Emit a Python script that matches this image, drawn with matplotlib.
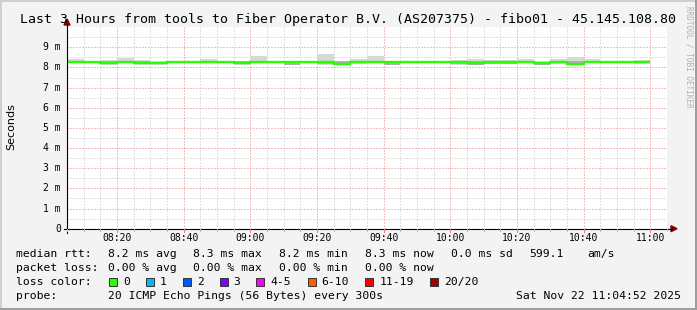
import matplotlib
matplotlib.use("Agg")
import matplotlib.pyplot as plt
from matplotlib.patches import Rectangle, Polygon
from matplotlib.lines import Line2D
import numpy as np

W, H = 697, 310

# ---------------- data ----------------
step_minutes = 5
start_label = "08:05"
tick_labels = ["08:20", "08:40", "09:00", "09:20", "09:40", "10:00", "10:20", "10:40", "11:00"]
ytick_vals = [0, 1, 2, 3, 4, 5, 6, 7, 8, 9]
ytick_labels = ["0", "1 m", "2 m", "3 m", "4 m", "5 m", "6 m", "7 m", "8 m", "9 m"]

# median RTT per 5-min step (ms)
median = [8.25, 8.25, 8.24, 8.25, 8.24, 8.24, 8.25, 8.25, 8.25, 8.25,
          8.24, 8.25, 8.25, 8.25, 8.25, 8.25, 8.18, 8.25, 8.25, 8.27,
          8.25, 8.25, 8.25, 8.25, 8.24, 8.25, 8.25, 8.25, 8.24, 8.25,
          8.19, 8.25, 8.25, 8.25, 8.27]
# outer smoke (lightest) band
smoke_hi = [8.42, 8.30, 8.36, 8.47, 8.36, 8.30, 8.30, 8.29, 8.42, 8.34,
            8.34, 8.57, 8.34, 8.30, 8.34, 8.67, 8.34, 8.42, 8.57, 8.30,
            8.34, 8.34, 8.30, 8.36, 8.42, 8.36, 8.36, 8.42, 8.30, 8.42,
            8.52, 8.42, 8.34, 8.29, 8.36]
smoke_lo = [8.22, 8.22, 8.14, 8.20, 8.14, 8.14, 8.20, 8.21, 8.21, 8.20,
            8.14, 8.20, 8.20, 8.14, 8.20, 8.14, 8.12, 8.19, 8.20, 8.14,
            8.20, 8.20, 8.21, 8.14, 8.14, 8.17, 8.17, 8.22, 8.14, 8.19,
            8.12, 8.22, 8.21, 8.21, 8.19]
# inner (darker) smoke band
inner_hi = [8.25, 8.25, 8.32, 8.25, 8.32, 8.25, 8.25, 8.25, 8.25, 8.25,
            8.30, 8.25, 8.32, 8.27, 8.25, 8.34, 8.30, 8.30, 8.25, 8.27,
            8.25, 8.25, 8.25, 8.34, 8.32, 8.34, 8.34, 8.30, 8.26, 8.34,
            8.30, 8.25, 8.25, 8.25, 8.30]
inner_lo = [8.25, 8.25, 8.15, 8.25, 8.15, 8.17, 8.25, 8.25, 8.25, 8.25,
            8.17, 8.25, 8.22, 8.14, 8.25, 8.17, 8.14, 8.22, 8.25, 8.14,
            8.25, 8.25, 8.25, 8.17, 8.14, 8.19, 8.19, 8.25, 8.14, 8.22,
            8.14, 8.25, 8.25, 8.25, 8.22]

loss_labels = ["0", "1", "2", "3", "4-5", "6-10", "11-19", "20/20"]
loss_colors = ["#26ff00", "#00b8ff", "#0059ff", "#7e00ff", "#ff00ff", "#ff5e00", "#ff0000", "#a10000"]

# ---------------- figure ----------------
fig = plt.figure(figsize=(W / 100, H / 100), dpi=100)
fig.patch.set_facecolor("#f3f3f3")


def fx(x):
    return x / W


def fy(y):
    return 1 - y / H


# plot area in pixels
L, R, T, B = 67, 667, 27.2, 228.7
ax = fig.add_axes([fx(L), fy(B), (R - L) / W, (B - T) / H])
ax.set_facecolor("white")
for s in ax.spines.values():
    s.set_visible(False)
ax.set_xlim(0, 180)
ax.set_ylim(0, 10)
ax.set_xticks([])
ax.set_yticks([])

n = len(median)
edges = np.arange(n + 1) * step_minutes


def tmin(lbl):
    h, m = map(int, lbl.split(":"))
    sh, sm = map(int, start_label.split(":"))
    return (h * 60 + m) - (sh * 60 + sm)


major_x = [tmin(l) for l in tick_labels]
dot = (0, (1, 2))
gkw = dict(lw=0.72, ls=dot, snap=True)
# minor grid
for m in range(0, 181, 5):
    if m not in major_x:
        ax.axvline(m, color="#c4c4c4", zorder=1, **gkw)
for v in np.arange(0.5, 10, 1.0):
    ax.axhline(v, color="#c4c4c4", zorder=1, **gkw)
# major grid
for mx in major_x:
    ax.axvline(mx, color="#ee8080", zorder=1.5, **gkw)
for v in ytick_vals[1:]:
    ax.axhline(v, color="#ee8080", zorder=1.5, **gkw)

# smoke
ax.stairs(smoke_hi, edges, baseline=smoke_lo, fill=True, color="#d8d8d8", zorder=2)
ax.stairs(inner_hi, edges, baseline=inner_lo, fill=True, color="#b0b0b0", zorder=2.5)
# median
ax.stairs(median, edges, baseline=None, color=loss_colors[0], lw=1.7, zorder=3)

# axes lines with arrows (figure pixel coordinates)
axc = "#000000"
arr = "#800000"
fig.add_artist(Line2D([fx(L), fx(672)], [fy(B), fy(B)], color=axc, lw=0.8))
fig.add_artist(Line2D([fx(L), fx(L)], [fy(B + 4), fy(24)], color=axc, lw=0.8))
fig.add_artist(Line2D([fx(L - 3), fx(L)], [fy(B), fy(B)], color=axc, lw=0.8))
fig.add_artist(Polygon([[fx(671), fy(B - 3)], [fx(677), fy(B)], [fx(671), fy(B + 3)]],
                       closed=True, color=arr, transform=fig.transFigure))
fig.add_artist(Polygon([[fx(L - 3), fy(25)], [fx(L), fy(19)], [fx(L + 3), fy(25)]],
                       closed=True, color=arr, transform=fig.transFigure))
# x ticks
for m in range(0, 181, 5):
    x = L + m * (R - L) / 180
    fig.add_artist(Line2D([fx(x), fx(x)], [fy(B), fy(B + 2)], color="#c0c0c0", lw=0.72))
for mx in major_x:
    x = L + mx * (R - L) / 180
    fig.add_artist(Line2D([fx(x), fx(x)], [fy(B), fy(B + 3)], color="#f08080", lw=0.72))

mono = "DejaVu Sans Mono"
for lbl, mx in zip(tick_labels, major_x):
    x = L + mx * (R - L) / 180
    fig.text(fx(x), fy(238), lbl, ha="center", va="center", family=mono, fontsize=7)
for v, lbl in zip(ytick_vals, ytick_labels):
    y = B - v * (B - T) / 10
    fig.text(fx(61), fy(y), lbl, ha="right", va="center", family=mono, fontsize=7)

fig.text(fx(11), fy(127), "Seconds", rotation=90, ha="center", va="center",
         family="DejaVu Sans", fontsize=8)

# title
fig.text(fx(20), fy(19), "Last 3 Hours from tools to Fiber Operator B.V. (AS207375) - fibo01 - 45.145.108.80",
         ha="left", va="center", family=mono, fontsize=9.5)

# watermark
fig.text(fx(689), fy(6), "RRDTOOL / TOBI OETIKER", rotation=-90, ha="center", va="top",
         family=mono, fontsize=5.5, color="#b0b0b0")

# legend rows
fs = 8.2
row1 = [(16, "median rtt:"), (107.6, "8.2 ms avg"), (193, "8.3 ms max"), (279, "8.2 ms min"),
        (365, "8.3 ms now"), (451, "0.0 ms sd"), (529, "599.1"), (587.5, "am/s")]
row2 = [(16, "packet loss:"), (107.6, "0.00 % avg"), (193, "0.00 % max"), (279, "0.00 % min"),
        (365, "0.00 % now")]
for x, t in row1:
    fig.text(fx(x), fy(254), t, ha="left", va="center", family=mono, fontsize=fs)
for x, t in row2:
    fig.text(fx(x), fy(268), t, ha="left", va="center", family=mono, fontsize=fs)

fig.text(fx(16), fy(282), "loss color:", ha="left", va="center", family=mono, fontsize=fs)
box_x = [109, 146, 182.7, 219.6, 256.4, 307.6, 365.3, 430]
for bx, c, lbl in zip(box_x, loss_colors, loss_labels):
    fig.add_artist(Rectangle((fx(bx), fy(286)), 8 / W, 8 / H, transform=fig.transFigure,
                             facecolor=c, edgecolor="#333333", lw=0.7))
    fig.text(fx(bx + 14), fy(282), lbl, ha="left", va="center", family=mono, fontsize=fs)

fig.text(fx(16), fy(296), "probe:", ha="left", va="center", family=mono, fontsize=fs)
fig.text(fx(107.6), fy(296), "20 ICMP Echo Pings (56 Bytes) every 300s", ha="left", va="center",
         family=mono, fontsize=fs)
fig.text(fx(681), fy(296), "Sat Nov 22 11:04:52 2025", ha="right", va="center", family=mono, fontsize=fs)

# frame (3D border)
fig.add_artist(Rectangle((0, fy(2)), 1, 2 / H, transform=fig.transFigure, color="#cfcfcf", lw=0))
fig.add_artist(Rectangle((0, 0), 2 / W, 1, transform=fig.transFigure, color="#cfcfcf", lw=0))
fig.add_artist(Rectangle((0, 0), 1, 2 / H, transform=fig.transFigure, color="#9e9e9e", lw=0))
fig.add_artist(Rectangle((fx(695), 0), 2 / W, 1, transform=fig.transFigure, color="#9e9e9e", lw=0))

fig.savefig("out.png", dpi=100, facecolor=fig.get_facecolor())
